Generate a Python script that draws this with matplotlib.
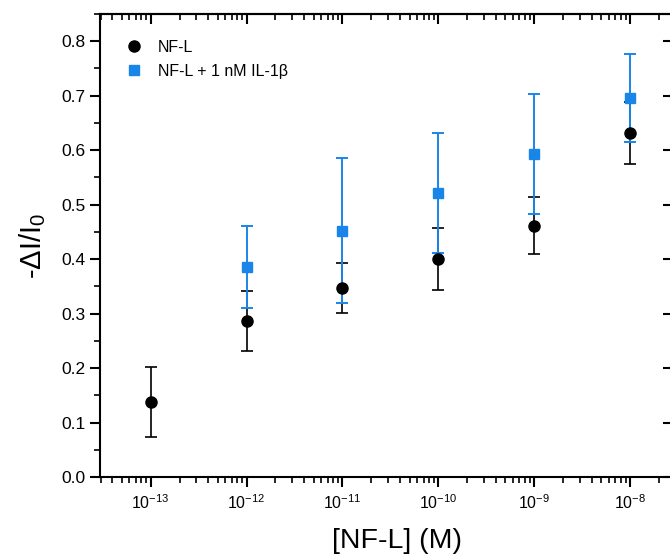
import numpy as np
import matplotlib
matplotlib.use("Agg")
import matplotlib.pyplot as plt
from matplotlib.ticker import (FixedLocator, LogLocator, MultipleLocator,
                               NullFormatter, NullLocator, LogFormatterSciNotation)

plt.rcParams['font.family'] = ['Liberation Sans', 'DejaVu Sans']
plt.rcParams['mathtext.fontset'] = 'custom'
plt.rcParams['mathtext.rm'] = 'Liberation Sans'
plt.rcParams['mathtext.it'] = 'Liberation Sans:italic'
plt.rcParams['mathtext.default'] = 'regular'

# concentrations (M)
conc_nfl = [1e-13, 1e-12, 1e-11, 1e-10, 1e-9, 1e-8]
conc_mix = [1e-12, 1e-11, 1e-10, 1e-9, 1e-8]

# -dI/I0 values and errors
nfl_mean = [0.137, 0.286, 0.347, 0.400, 0.461, 0.631]
nfl_err = [0.064, 0.055, 0.046, 0.057, 0.052, 0.057]
mix_mean = [0.385, 0.452, 0.522, 0.593, 0.695]
mix_err = [0.075, 0.133, 0.110, 0.110, 0.081]

x_ticks = [1e-13, 1e-12, 1e-11, 1e-10, 1e-9, 1e-8]

black = 'black'
blue = '#1a85e8'

fig = plt.figure(figsize=(6.7, 5.54), dpi=100)
ax = fig.add_axes([0.149, 0.139, 0.856, 0.836])

# error bars first, markers on top
ax.errorbar(conc_nfl, nfl_mean, yerr=nfl_err, fmt='none', ecolor=black,
            elinewidth=1.2, capsize=4, capthick=1.2, zorder=2)
ax.errorbar(conc_mix, mix_mean, yerr=mix_err, fmt='none', ecolor=blue,
            elinewidth=1.4, capsize=4.5, capthick=1.4, zorder=3)
ax.plot(conc_mix, mix_mean, 's', color=blue, ms=7, zorder=4,
        label='NF-L + 1 nM IL-1\u03b2')
ax.plot(conc_nfl, nfl_mean, 'o', color=black, ms=8, zorder=5, label='NF-L')

ax.set_xscale('log')
ax.set_xlim(10 ** -13.53, 10 ** -7.55)
ax.set_ylim(0, 0.85)

ax.xaxis.set_major_locator(FixedLocator(x_ticks))
ax.xaxis.set_major_formatter(LogFormatterSciNotation())
ax.xaxis.set_minor_locator(LogLocator(base=10, subs=np.arange(2, 10), numticks=20))
ax.xaxis.set_minor_formatter(NullFormatter())
ax.yaxis.set_major_locator(MultipleLocator(0.1))
ax.yaxis.set_minor_locator(MultipleLocator(0.05))
ax.yaxis.set_major_formatter(plt.FuncFormatter(lambda v, p: '%.1f' % v))

for s in ax.spines.values():
    s.set_linewidth(1.5)

ax.tick_params(axis='both', which='major', labelsize=12.5, width=1.5, length=7,
               direction='out', top=False, right=False)
ax.tick_params(axis='both', which='minor', width=1.2, length=4,
               direction='out', top=False, right=False)
ax.tick_params(axis='x', which='major', labelsize=11.5, pad=5)

# top and right: inward ticks, no labels
top = ax.secondary_xaxis('top')
top.xaxis.set_major_locator(FixedLocator(x_ticks))
top.xaxis.set_minor_locator(LogLocator(base=10, subs=np.arange(2, 10), numticks=20))
top.xaxis.set_major_formatter(NullFormatter())
top.xaxis.set_minor_formatter(NullFormatter())
top.tick_params(which='major', direction='in', length=7, width=1.5, labeltop=False)
top.tick_params(which='minor', direction='in', length=4, width=1.2)
top.spines['top'].set_linewidth(1.5)

right = ax.secondary_yaxis('right')
right.yaxis.set_major_locator(MultipleLocator(0.1))
right.yaxis.set_minor_locator(NullLocator())
right.yaxis.set_major_formatter(NullFormatter())
right.tick_params(which='major', direction='in', length=7, width=1.5, labelright=False)

ax.set_xlabel('[NF-L] (M)', fontsize=20.5, labelpad=9)
ax.xaxis.set_label_coords(0.518, -0.11)
ax.set_ylabel('-\u0394I/I$_0$', fontsize=21, labelpad=9)

handles, labels = ax.get_legend_handles_labels()
ax.legend(handles[::-1], labels[::-1], loc='upper left', frameon=False,
          fontsize=11.5, handletextpad=1.0, bbox_to_anchor=(0.02, 0.975),
          labelspacing=0.55, handlelength=1.0)

fig.savefig('out.png', dpi=100)
